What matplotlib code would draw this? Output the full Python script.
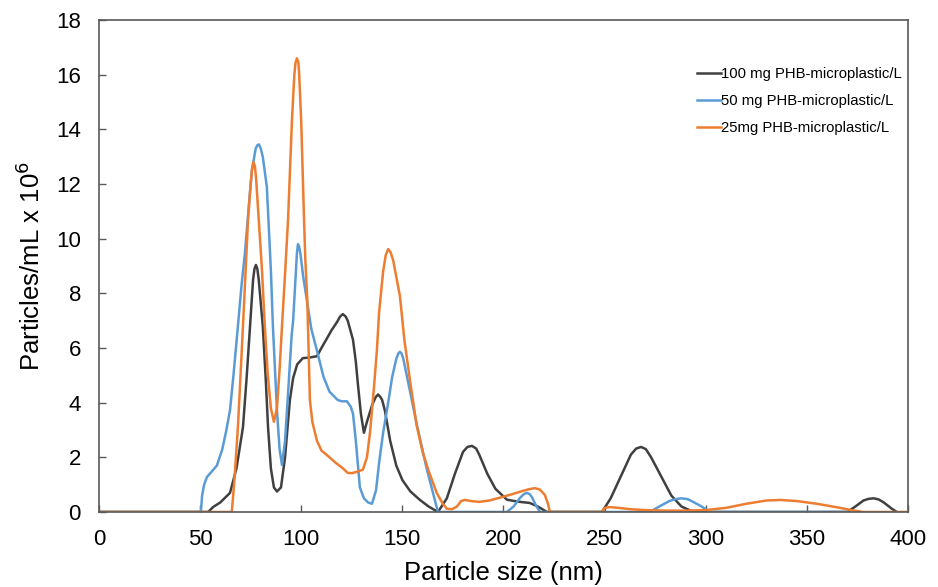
import matplotlib.pyplot as plt

plt.rcParams['font.family'] = ['Liberation Sans', 'DejaVu Sans']

# particle size (nm) / concentration (particles/mL x 10^6)
x_100 = [0, 54, 56.4, 60, 64.8, 68, 71.2, 73, 74.7, 76.2, 76.9, 77.6, 78.3, 79, 81, 82.5, 83.6, 85, 86.5, 88, 90,
         92, 94.4, 96, 98, 100.8, 104, 107.8, 110, 112.7, 115, 117.7, 119.2, 120.6, 122, 123, 125.6, 127, 128,
         129.5, 131, 132.5, 135, 136.8, 138, 139.2, 140, 141.4, 144, 147, 150, 154, 158.7, 163, 167.6, 172,
         176, 180, 182.2, 184.4, 186.5, 188, 192, 196, 201.7, 207, 213, 217, 221.5, 248.7, 253, 258, 263,
         265.6, 268, 270.4, 273, 278, 283, 288, 294, 370, 374, 378, 380.5, 383, 385.5, 388, 392, 394.5]
y_100 = [0, 0, 0.18, 0.35, 0.7, 1.6, 3.1, 4.9, 6.8, 8.5, 8.9, 9.04, 8.9, 8.5, 6.8, 4.8, 3.1, 1.6, 0.9, 0.75, 0.9,
         2.0, 4.1, 4.9, 5.4, 5.63, 5.65, 5.7, 6.0, 6.35, 6.65, 6.95, 7.15, 7.24, 7.15, 7.0, 6.3, 5.5, 4.7,
         3.6, 2.9, 3.3, 3.9, 4.2, 4.3, 4.2, 4.1, 3.7, 2.6, 1.7, 1.17, 0.75, 0.44, 0.2, 0, 0.5,
         1.4, 2.2, 2.38, 2.42, 2.32, 2.1, 1.4, 0.85, 0.45, 0.38, 0.33, 0.2, 0, 0, 0.5, 1.3, 2.1,
         2.32, 2.38, 2.3, 2.0, 1.3, 0.6, 0.2, 0, 0, 0.2, 0.42, 0.48, 0.5, 0.46, 0.35, 0.12, 0]

x_50 = [0, 50.4, 51, 52, 53.4, 56, 58.3, 61, 63, 64.8, 66.5, 68.7, 70.5, 72.2, 74, 75.6, 77.5, 78.3, 79.1, 80,
        81, 83, 85, 86, 88, 89.3, 90.5, 92, 93.5, 95.3, 96, 97.3, 97.9, 98.4, 99, 99.7, 101, 103, 105, 107.8,
        111, 114, 118, 120, 122.6, 124.5, 125.6, 127, 129, 131, 133, 135, 137, 138.5, 140.5, 143, 145, 147,
        148, 148.8, 149.6, 150.5, 153, 157, 162, 167.6, 201.7, 205, 208, 210, 211.6, 213, 214, 216, 218,
        272.4, 277, 282, 285, 288, 291, 293, 298, 302, 370]
y_50 = [0, 0, 0.6, 1.0, 1.28, 1.5, 1.7, 2.3, 3.0, 3.73, 5.0, 6.8, 8.3, 9.5, 11.1, 12.5, 13.3, 13.42, 13.45, 13.3,
        13.0, 11.9, 8.85, 6.8, 3.73, 2.3, 1.72, 2.6, 4.35, 6.5, 7.0, 8.7, 9.5, 9.8, 9.7, 9.4, 8.6, 7.65, 6.7,
        5.9, 4.95, 4.4, 4.1, 4.05, 4.05, 3.85, 3.6, 2.6, 0.9, 0.5, 0.35, 0.3, 0.8, 1.8, 2.9, 4.0, 4.95, 5.6,
        5.8, 5.86, 5.8, 5.6, 4.7, 3.25, 1.6, 0, 0, 0.2, 0.5, 0.65, 0.7, 0.65, 0.55, 0.25, 0,
        0, 0.2, 0.4, 0.47, 0.5, 0.47, 0.4, 0.2, 0, 0]

x_25 = [0, 65.7, 67, 68.7, 70, 71.2, 72.5, 73.7, 75, 75.7, 76.4, 77.1, 77.7, 79, 80.6, 82, 83.5, 85, 86.5, 88,
        89.3, 90.5, 92, 93.5, 94.5, 95.4, 96.6, 97.2, 97.9, 98.6, 99, 100, 101.4, 102, 103, 104.3, 105.5,
        107.8, 110, 114, 117, 120.6, 123, 125, 128, 130.5, 132.5, 134, 135.8, 137.4, 138.5, 140.5, 141.8, 143,
        144.2, 145.5, 148.8, 151, 154, 157, 160, 163, 167, 170, 172, 174.5, 177, 179, 181, 184, 188, 193,
        198, 204.7, 210, 213, 215.6, 218, 220.5, 222, 223, 248.7, 250, 252.6, 257, 263, 270, 280, 290, 300,
        310, 320, 330, 337, 345, 355, 365, 372, 377.8, 400]
y_25 = [0, 0, 1.2, 3.1, 5.0, 6.8, 8.8, 10.7, 12.0, 12.55, 12.8, 12.65, 12.2, 10.7, 8.85, 6.8, 5.0, 3.8, 3.3, 3.8,
        5.2, 6.8, 8.7, 10.7, 12.6, 14.3, 16.0, 16.45, 16.6, 16.45, 16.0, 14.3, 10.7, 9.3, 7.75, 4.1, 3.3,
        2.6, 2.25, 2.0, 1.8, 1.6, 1.43, 1.42, 1.48, 1.55, 2.0, 2.9, 4.4, 5.9, 7.3, 8.8, 9.4, 9.62,
        9.5, 9.2, 7.9, 6.3, 4.7, 3.2, 2.2, 1.5, 0.7, 0.3, 0.12, 0.1, 0.2, 0.4, 0.44, 0.4, 0.37, 0.42,
        0.52, 0.66, 0.78, 0.84, 0.87, 0.82, 0.62, 0.3, 0, 0, 0.15, 0.18, 0.15, 0.1, 0.07, 0.05, 0.05, 0.07,
        0.15, 0.3, 0.42, 0.44, 0.4, 0.3, 0.17, 0.07, 0, 0]

labels = ['100 mg PHB-microplastic/L', '50 mg PHB-microplastic/L', '25mg PHB-microplastic/L']
colors = ['#404040', '#5B9BD5', '#ED7D31']

fig = plt.figure(figsize=(9.38, 5.87), dpi=100)
ax = fig.add_axes([0.1055, 0.1278, 0.8625, 0.838])

ax.plot(x_100, y_100, color=colors[0], lw=1.8, label=labels[0])
ax.plot(x_50, y_50, color=colors[1], lw=1.8, label=labels[1])
ax.plot(x_25, y_25, color=colors[2], lw=1.8, label=labels[2])

ax.set_xlim(0, 400)
ax.set_ylim(0, 18)
ax.set_xticks(range(0, 401, 50))
ax.set_yticks(range(0, 19, 2))
ax.tick_params(direction='in', length=5, width=1, color='#595959', labelsize=16)
ax.tick_params(axis='x', pad=12)
ax.tick_params(axis='y', pad=13)
for s in ax.spines.values():
    s.set_color('#595959')
    s.set_linewidth(1.2)

ax.set_xlabel('Particle size (nm)', fontsize=18.5, labelpad=8)
ax.set_ylabel('Particles/mL x 10$^6$', fontsize=18.5, labelpad=8)

ax.legend(loc='upper left', bbox_to_anchor=(0.739, 0.904), frameon=False, fontsize=10.7,
          handlelength=1.6, handletextpad=0.05, labelspacing=0.86, borderpad=0, borderaxespad=0)

fig.savefig('out.png', dpi=100)
